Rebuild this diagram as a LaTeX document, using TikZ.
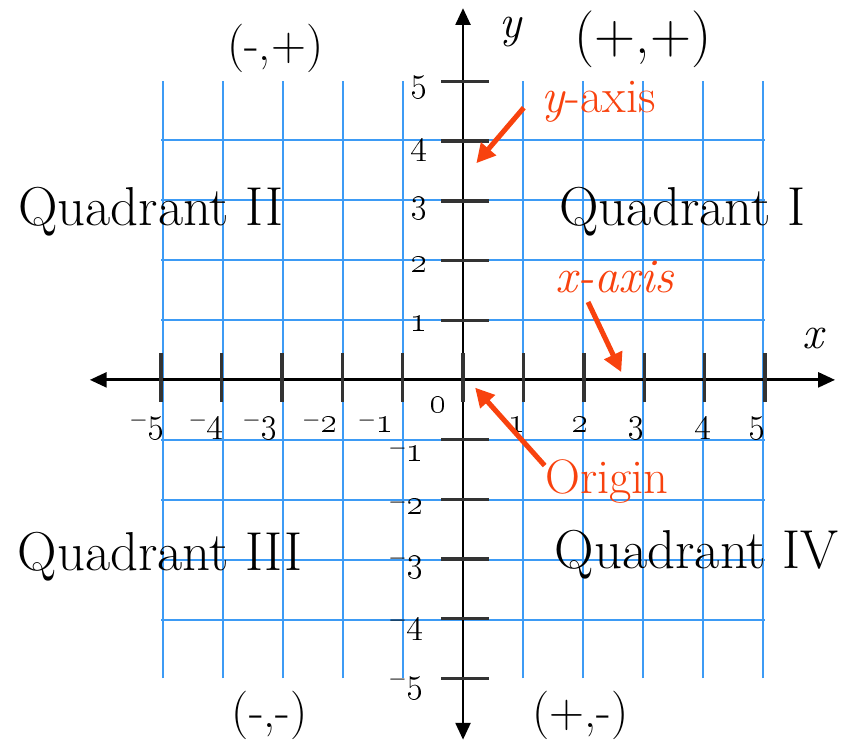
\documentclass[tikz,border=0pt]{standalone}
\usetikzlibrary{arrows.meta, positioning}
\definecolor{blugriglia}{HTML}{3D9BF5}
\definecolor{rossoetich}{HTML}{F8420E}
\definecolor{grigiotacca}{HTML}{333333}
\newcommand{\meno}{\raisebox{0.45ex}{\scalebox{0.65}{$-$}}}

\begin{document}
\begin{tikzpicture}[x=1.007cm, y=0.995cm,
  griglia/.style={draw=blugriglia, line width=0.95pt},
  asse/.style={draw=black, line width=1.4pt,
               {Triangle[length=8pt,width=7pt]}-{Triangle[length=8pt,width=7pt]}},
  tacca/.style={draw=grigiotacca, line width=1.6pt},
  numero/.style={font=\fontsize{17}{19}\selectfont, inner sep=0pt},
  quadrante/.style={font=\fontsize{26}{30}\selectfont, inner sep=0pt},
  segno/.style={font=\fontsize{23}{26}\selectfont, inner sep=0pt},
  didasc/.style={text=rossoetich, font=\fontsize{23}{26}\selectfont, inner sep=0pt},
  freccia/.style={draw=rossoetich, line width=2.4pt, -{Triangle[length=9pt,width=9pt]}}
]
\useasboundingbox (-7.666,-6.164) rectangle (6.523,6.365);

% griglia
\draw[griglia] (-5,-5) grid (5,5);

% testi dei quadranti
\node[quadrante] (quadI)   at (3.63,2.81)   {Quadrant I};
\node[quadrante] (quadII)  at (-5.17,2.81)  {Quadrant II};
\node[quadrante] (quadIII) at (-5.02,-2.96) {Quadrant III};
\node[quadrante] (quadIV)  at (3.87,-2.93)  {Quadrant IV};

\node[segno] (segnoII)  at (-3.11,5.56) {(-,+)};
\node[segno, font=\fontsize{27}{30}\selectfont] (segnoI) at (2.98,5.70) {(+,+)};
\node[segno] (segnoIII) at (-3.20,-5.63) {(-,-)};
\node[segno] (segnoIV)  at (1.94,-5.63)  {(+,-)};

% assi
\coordinate (xsin) at (-6.18,0);
\coordinate (xdes) at (6.16,0);
\coordinate (ybas) at (0,-6.03);
\coordinate (yalt) at (0,6.23);
\draw[asse] (xsin) -- (xdes);
\draw[asse] (ybas) -- (yalt);

\foreach \i in {-5,...,5}
  \draw[tacca] (\i,0.45) -- (\i,-0.37);
\foreach \j in {-5,...,-1,1,2,...,5}
  \draw[tacca] (-0.36,\j) -- (0.43,\j);

\node[segno, font=\fontsize{22}{26}\selectfont\itshape] (nomey) at (0.78,5.83) {y};
\node[segno, font=\fontsize{22}{26}\selectfont\itshape] (nomex) at (5.79,0.70) {x};

% numeri sull'asse x
\foreach \v/\px in {5/-5.23,4/-4.25,3/-3.36,2/-2.37,1/-1.45}
  \node[numero, anchor=base] (nxm\v) at (\px,-0.89) {\meno\oldstylenums{\v}};
\foreach \v/\px in {1/0.89,2/1.94,3/2.86,4/3.97,5/4.87}
  \node[numero, anchor=base] (nx\v) at (\px,-0.89) {\oldstylenums{\v}};
\node[numero, anchor=base] (nzero) at (-0.41,-0.54) {\oldstylenums{0}};

% numeri sull'asse y
\foreach \v/\py in {5/4.91,4/3.85,3/2.88,2/1.93,1/0.95}
  \node[numero] (ny\v) at (-0.72,\py) {\oldstylenums{\v}};
\foreach \v/\py in {1/-1.2,2/-2.09,3/-3.10,4/-4.14,5/-5.13}
  \node[numero] (nym\v) at (-0.94,\py) {\meno\oldstylenums{\v}};

% didascalie rosse
\node[didasc] (yasse)   at (2.24,4.66)  {\textit{y}-axis};
\node[didasc] (xasse)   at (2.52,1.73)  {\textit{x-axis}};
\node[didasc] (origine) at (2.38,-1.71) {Origin};

\coordinate (puntay) at (0.22,3.63);
\coordinate (puntax) at (2.62,0.13);
\coordinate (puntao) at (0.20,-0.13);

\draw[freccia] ([shift={(-0.28,-0.1)}]yasse.west) -- (puntay);
\draw[freccia] ([shift={(-0.45,-0.15)}]xasse.south) -- (puntax);
\draw[freccia] ([shift={(0,-0.1)}]origine.north west) -- (puntao);

\end{tikzpicture}
\end{document}
